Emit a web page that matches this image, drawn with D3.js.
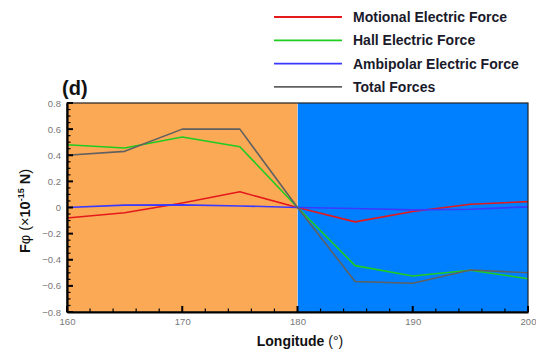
<!DOCTYPE html>
<html>
<head>
<meta charset="utf-8">
<script src="https://cdn.jsdelivr.net/npm/d3@7"></script>
<style>
  html, body { margin: 0; padding: 0; background: #fff; }
  svg { display: block; font-family: "Liberation Sans", Arial, sans-serif; }
</style>
</head>
<body>
<svg id="chart" width="536" height="356"></svg>
<script>
// Longitude grid (degrees)
const longitudes = [160, 165, 170, 175, 180, 185, 190, 195, 200];

// Azimuthal force components (×10^-15 N)
const motional  = [-0.08, -0.04, 0.035, 0.12, 0, -0.11, -0.03, 0.025, 0.045];
const hall      = [0.48, 0.455, 0.54, 0.465, 0, -0.445, -0.525, -0.48, -0.545];
const ambipolar = [0, 0.018, 0.02, 0.012, 0, -0.008, -0.018, -0.013, 0.005];
const total     = [0.40, 0.43, 0.60, 0.60, 0, -0.567, -0.58, -0.478, -0.50];

const seriesNames = ["Motional Electric Force", "Hall Electric Force", "Ambipolar Electric Force", "Total Forces"];
const seriesColors = ["#e3191c", "#1fcc1f", "#3a3aff", "#606060"];
const seriesValues = [motional, hall, ambipolar, total];

// Shaded longitude sectors
const sectors = [
  { from: 160, to: 180, color: "#fca955" },
  { from: 180, to: 200, color: "#0080ff" }
];

const xTicks = [160, 170, 180, 190, 200];
const yTicks = [-0.8, -0.6, -0.4, -0.2, 0, 0.2, 0.4, 0.6, 0.8];

const svg = d3.select("#chart");
const plot = { left: 67, right: 528, top: 103, bottom: 312 };

const x = d3.scaleLinear().domain([160, 200]).range([plot.left, plot.right]);
const y = d3.scaleLinear().domain([-0.8, 0.8]).range([plot.bottom, plot.top]);

// Background sectors
svg.append("g").selectAll("rect").data(sectors).join("rect")
  .attr("x", d => x(d.from))
  .attr("y", plot.top)
  .attr("width", d => x(d.to) - x(d.from))
  .attr("height", plot.bottom - plot.top)
  .attr("fill", d => d.color);

// Sector boundary
svg.append("line")
  .attr("x1", x(180)).attr("x2", x(180))
  .attr("y1", plot.top).attr("y2", plot.bottom)
  .attr("stroke", "#c8c8c8").attr("stroke-width", 1);

// Series lines
const line = d3.line().x((d, i) => x(longitudes[i])).y(d => y(d));
svg.append("g").selectAll("path").data(seriesValues).join("path")
  .attr("d", d => line(d))
  .attr("fill", "none")
  .attr("stroke", (d, i) => seriesColors[i])
  .attr("stroke-width", 1.6)
  .attr("stroke-linejoin", "round");

// Frame
svg.append("rect")
  .attr("x", plot.left).attr("y", plot.top)
  .attr("width", plot.right - plot.left).attr("height", plot.bottom - plot.top)
  .attr("fill", "none").attr("stroke", "#222").attr("stroke-width", 1.2);

// Left axis: major ticks with labels, minor ticks pointing inward
const yAxis = svg.append("g").attr("transform", `translate(${plot.left},0)`)
  .call(d3.axisLeft(y).tickValues(yTicks).tickSize(0).tickPadding(6)
    .tickFormat(d => d === 0 ? "0" : d3.format(".1f")(d)));
yAxis.select(".domain").attr("stroke", "#000").attr("stroke-width", 2.2);
yAxis.selectAll("text").attr("fill", "#777").attr("font-size", 9.5);
svg.append("g").selectAll("line").data(d3.range(-0.8, 0.801, 0.05)).join("line")
  .attr("x1", plot.left).attr("x2", (d, i) => plot.left + (i % 4 === 0 ? 6 : 3.5))
  .attr("y1", d => y(d)).attr("y2", d => y(d))
  .attr("stroke", "#000").attr("stroke-width", (d, i) => i % 4 === 0 ? 2 : 1.2);

// Bottom axis
const xAxis = svg.append("g").attr("transform", `translate(0,${plot.bottom})`)
  .call(d3.axisBottom(x).tickValues(xTicks).tickSize(0).tickPadding(6));
xAxis.select(".domain").attr("stroke", "#000").attr("stroke-width", 2.2);
xAxis.selectAll("text").attr("fill", "#777").attr("font-size", 9.5);
svg.append("g").selectAll("line").data(d3.range(160, 200.01, 2)).join("line")
  .attr("x1", d => x(d)).attr("x2", d => x(d))
  .attr("y1", plot.bottom).attr("y2", (d, i) => plot.bottom - (i % 5 === 0 ? 6 : 3.5))
  .attr("stroke", "#000").attr("stroke-width", (d, i) => i % 5 === 0 ? 2 : 1.2);

// Axis titles
const xTitle = svg.append("text")
  .attr("x", 300).attr("y", 346)
  .attr("text-anchor", "middle").attr("font-size", 14).attr("fill", "#111");
xTitle.append("tspan").attr("font-weight", "bold").text("Longitude ");
xTitle.append("tspan").attr("font-weight", "normal").text("(°)");

const yTitle = svg.append("text")
  .attr("transform", `translate(29.5,211) rotate(-90)`)
  .attr("text-anchor", "middle").attr("font-size", 14.5).attr("fill", "#111");
yTitle.append("tspan").attr("font-weight", "bold").text("F");
yTitle.append("tspan").attr("font-weight", "normal").text("φ (×");
yTitle.append("tspan").attr("font-weight", "bold").text("10");
yTitle.append("tspan").attr("font-weight", "bold").attr("font-size", 9).attr("dy", -6).text("-15");
yTitle.append("tspan").attr("font-weight", "bold").attr("dy", 6).text(" N");
yTitle.append("tspan").attr("font-weight", "normal").text(")");

// Panel tag
svg.append("text")
  .attr("x", 62).attr("y", 95)
  .attr("font-size", 20).attr("font-weight", "bold").attr("fill", "#111")
  .text("(d)");

// Legend
const legend = svg.append("g").selectAll("g").data(seriesNames).join("g")
  .attr("transform", (d, i) => `translate(274,${17 + i * 23.3})`);
legend.append("line")
  .attr("x1", 0).attr("x2", 68).attr("y1", 0).attr("y2", 0)
  .attr("stroke", (d, i) => seriesColors[i]).attr("stroke-width", 1.8);
legend.append("text")
  .attr("x", 79).attr("y", 5)
  .attr("font-size", 14).attr("font-weight", "bold").attr("fill", "#1a1a2a")
  .text(d => d);
</script>
</body>
</html>
